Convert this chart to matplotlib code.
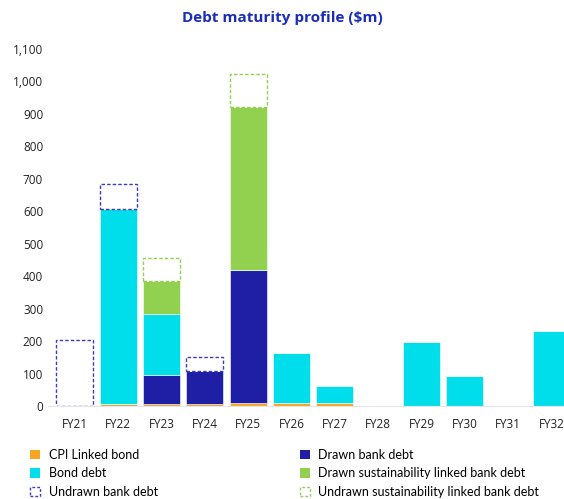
import numpy as np
import matplotlib.pyplot as plt
from matplotlib.patches import Patch

plt.rcParams['font.family'] = ['Open Sans', 'DejaVu Sans']

years = ['FY21', 'FY22', 'FY23', 'FY24', 'FY25', 'FY26', 'FY27', 'FY28', 'FY29', 'FY30', 'FY31', 'FY32']
cpi_bond      = [0, 5, 5, 5, 8, 8, 8, 0, 0, 0, 0, 0]
drawn_bank    = [0, 0, 91, 103, 411, 0, 0, 0, 0, 0, 0, 0]
bond_debt     = [0, 602, 187, 0, 0, 155, 55, 0, 197, 92, 0, 231]
drawn_sust    = [0, 0, 101, 0, 503, 0, 0, 0, 0, 0, 0, 0]
undrawn_bank  = [203, 76, 0, 44, 0, 0, 0, 0, 0, 0, 0, 0]
undrawn_sust  = [0, 0, 71, 0, 100, 0, 0, 0, 0, 0, 0, 0]

c_cpi = '#F5A623'
c_bond = '#00DEEB'
c_bank = '#1F1FA5'
c_sust = '#92D050'
c_ubank = '#3B3BC0'

fig = plt.figure(figsize=(5.64, 4.99), dpi=100)
ax = fig.add_axes([48/564, 93/499, 516/564, 357/499])

x = np.arange(len(years))
w = 0.85
bottom = np.zeros(len(years))
for vals, col in [(cpi_bond, c_cpi), (drawn_bank, c_bank), (bond_debt, c_bond), (drawn_sust, c_sust)]:
    v = np.array(vals, dtype=float)
    ax.bar(x, v, w, bottom=bottom, color=col, edgecolor='white', linewidth=0.4)
    bottom += v
for vals, col in [(undrawn_bank, c_ubank), (undrawn_sust, c_sust)]:
    v = np.array(vals, dtype=float)
    m = v > 0
    ax.bar(x[m], v[m], w, bottom=bottom[m], facecolor='white', edgecolor=col,
           linestyle=(0, (2.5, 1.5)), linewidth=1.0)
    bottom += v

ax.set_xlim(-0.62, 11.29)
ax.set_ylim(0, 1100)
ax.set_yticks(np.arange(0, 1101, 100))
ax.set_yticklabels([f'{t:,}' for t in range(0, 1101, 100)])
ax.set_xticks(x)
ax.set_xticklabels(years)
ax.tick_params(length=0, labelsize=8.5, colors='#222222')
ax.tick_params(axis='x', pad=9)
for s in ['top', 'right', 'left']:
    ax.spines[s].set_visible(False)
ax.spines['bottom'].set_color('#E6E6E6')

fig.text(0.5, 0.963, 'Debt maturity profile ($m)', ha='center', va='center',
         fontsize=11, fontweight='bold', color='#1A2DB5')

handles = [
    Patch(facecolor=c_cpi, label='CPI Linked bond'),
    Patch(facecolor=c_bond, label='Bond debt'),
    Patch(facecolor='white', edgecolor=c_ubank, linestyle=(0, (2, 1.5)), label='Undrawn bank debt'),
    Patch(facecolor=c_bank, label='Drawn bank debt'),
    Patch(facecolor=c_sust, label='Drawn sustainability linked bank debt'),
    Patch(facecolor='white', edgecolor=c_sust, linestyle=(0, (2, 1.5)), label='Undrawn sustainability linked bank debt'),
]
fig.legend(handles=handles, ncol=2, loc='upper left', bbox_to_anchor=(0.045, 0.11),
           frameon=False, prop={'family': ['Lato', 'DejaVu Sans'], 'size': 9},
           handlelength=0.75, handleheight=0.75,
           handletextpad=0.7, columnspacing=11.4, labelspacing=0.5, borderaxespad=0)

fig.savefig('out.png', dpi=100)
